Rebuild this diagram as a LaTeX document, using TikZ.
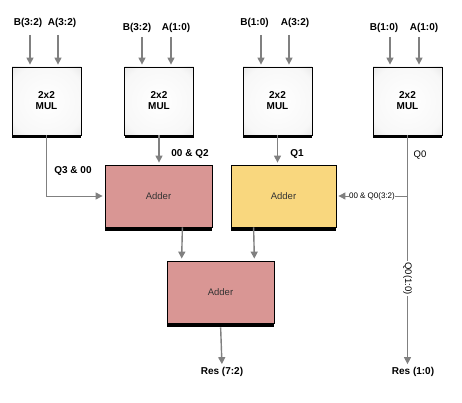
\documentclass[tikz,border=0pt]{standalone}
\usepackage{fontspec}
\setmainfont{Liberation Sans}
\usetikzlibrary{arrows.meta,calc}
\definecolor{addpink}{RGB}{217,150,148}
\definecolor{addyellow}{RGB}{249,215,126}
\definecolor{wiregray}{RGB}{128,128,128}
\pgfdeclareradialshading{mulshade}{\pgfpoint{0bp}{0bp}}{color(0bp)=(white); color(28bp)=(white!97!black); color(40bp)=(white!88!black); color(50bp)=(white!62!black); color(71bp)=(white!45!black)}
\tikzset{
  mulbox/.style={draw=black, line width=0.8pt, shading=mulshade,
    preaction={fill=black, transform canvas={yshift=-3.5pt}},
    minimum width=69pt, minimum height=68pt, align=center,
    font=\fontsize{10}{11}\selectfont\bfseries},
  addbox/.style={draw=black, line width=0.8pt, fill=#1,
    preaction={fill=black, transform canvas={yshift=-3.5pt}},
    minimum width=107pt, minimum height=62pt,
    font=\fontsize{9.5}{11}\selectfont, text=black!80},
  sig/.style={draw=wiregray, line width=1.4pt, -{Triangle[length=7pt,width=7pt]}, shorten >=2pt},
  lbl/.style={font=\fontsize{10}{12}\selectfont\bfseries, inner sep=1pt},
  thin lbl/.style={font=\fontsize{9.5}{11}\selectfont, inner sep=1pt}
}
\begin{document}
\begin{tikzpicture}[x=1pt,y=-1pt]
			%%%%% START %%%%%
			\useasboundingbox (0,0) rectangle (462,403);
			
			\node[mulbox] (mul1) at (46.5,101) {2x2\\MUL};
			\node[mulbox] (mul2) at (159,101) {2x2\\MUL};
			\node[mulbox] (mul3) at (277.5,101) {2x2\\MUL};
			\node[mulbox] (mul4) at (407.5,101) {2x2\\MUL};
			
			\node[addbox=addpink] (add1) at (158.5,196) {Adder};
			\node[addbox=addyellow, minimum width=105pt] (add2) at (283.5,196) {Adder};
			\node[addbox=addpink] (add3) at (220.5,292) {Adder};
			
			% inputs
			\node[lbl] (b32a) at (28,23) {B(3:2)};
			\node[lbl] (a32a) at (62,23) {A(3:2)};
			\node[lbl] (b32b) at (137,28) {B(3:2)};
			\node[lbl] (a10b) at (176,28) {A(1:0)};
			\node[lbl] (b10c) at (254.5,23) {B(1:0)};
			\node[lbl] (a32c) at (295,23) {A(3:2)};
			\node[lbl] (b10d) at (384,28) {B(1:0)};
			\node[lbl] (a10d) at (424,28) {A(1:0)};
			
			\coordinate (in1) at (30,35);
			\coordinate (in2) at (58,35);
			\coordinate (in3) at (142,37);
			\coordinate (in4) at (171,37);
			\coordinate (in5) at (261,35);
			\coordinate (in6) at (289,35);
			\coordinate (in7) at (390,37);
			\coordinate (in8) at (419,37);
			\draw[sig] (in1) -- (in1 |- mul1.north);
			\draw[sig] (in2) -- (in2 |- mul1.north);
			\draw[sig] (in3) -- (in3 |- mul2.north);
			\draw[sig] (in4) -- (in4 |- mul2.north);
			\draw[sig] (in5) -- (in5 |- mul3.north);
			\draw[sig] (in6) -- (in6 |- mul3.north);
			\draw[sig] (in7) -- (in7 |- mul4.north);
			\draw[sig] (in8) -- (in8 |- mul4.north);
			
			% products
			\draw[sig, line width=1pt] (mul1.south) |- (add1.west);
			\node[lbl] (q3) at (73,171) {Q3 \& 00};
			\draw[sig] (mul2.south) -- (mul2.south |- add1.north);
			\node[lbl] (q2) at (190,154) {00 \& Q2};
			\draw[sig] (mul3.south) -- (mul3.south |- add2.north);
			\node[lbl] (q1) at (297,154) {Q1};
			
			\node[lbl] (res10) at (413,372) {Res (1:0)};
			\node[lbl] (res72) at (222,372) {Res (7:2)};
			\coordinate (q0tap) at (mul4.south |- add2.east);
			\draw[sig, line width=1pt] (mul4.south) -- (mul4.south |- res10.north)
			  node[thin lbl, fill=white, rotate=-90, pos=0.62] (q0lo) {Q0(1:0)};
			\node[thin lbl] (q0) at (420,155) {Q0};
			\draw[sig, line width=1pt] (q0tap) -- (add2.east)
			  node[font=\fontsize{8}{10}\selectfont, fill=white, inner sep=0.5pt, pos=0.5] (q0hi) {00 \& Q0(3:2)};
			
			% sums
			\draw[sig] ([xshift=-30pt]add1.south east) -- ([xshift=15pt]add3.north west);
			\draw[sig] ([xshift=23pt]add2.south west) -- ([xshift=-20pt]add3.north east);
			\draw[sig, shorten <=4pt] (add3.south) -- (res72.north);
			
			%%%%% END %%%%%
\end{tikzpicture}
\end{document}
